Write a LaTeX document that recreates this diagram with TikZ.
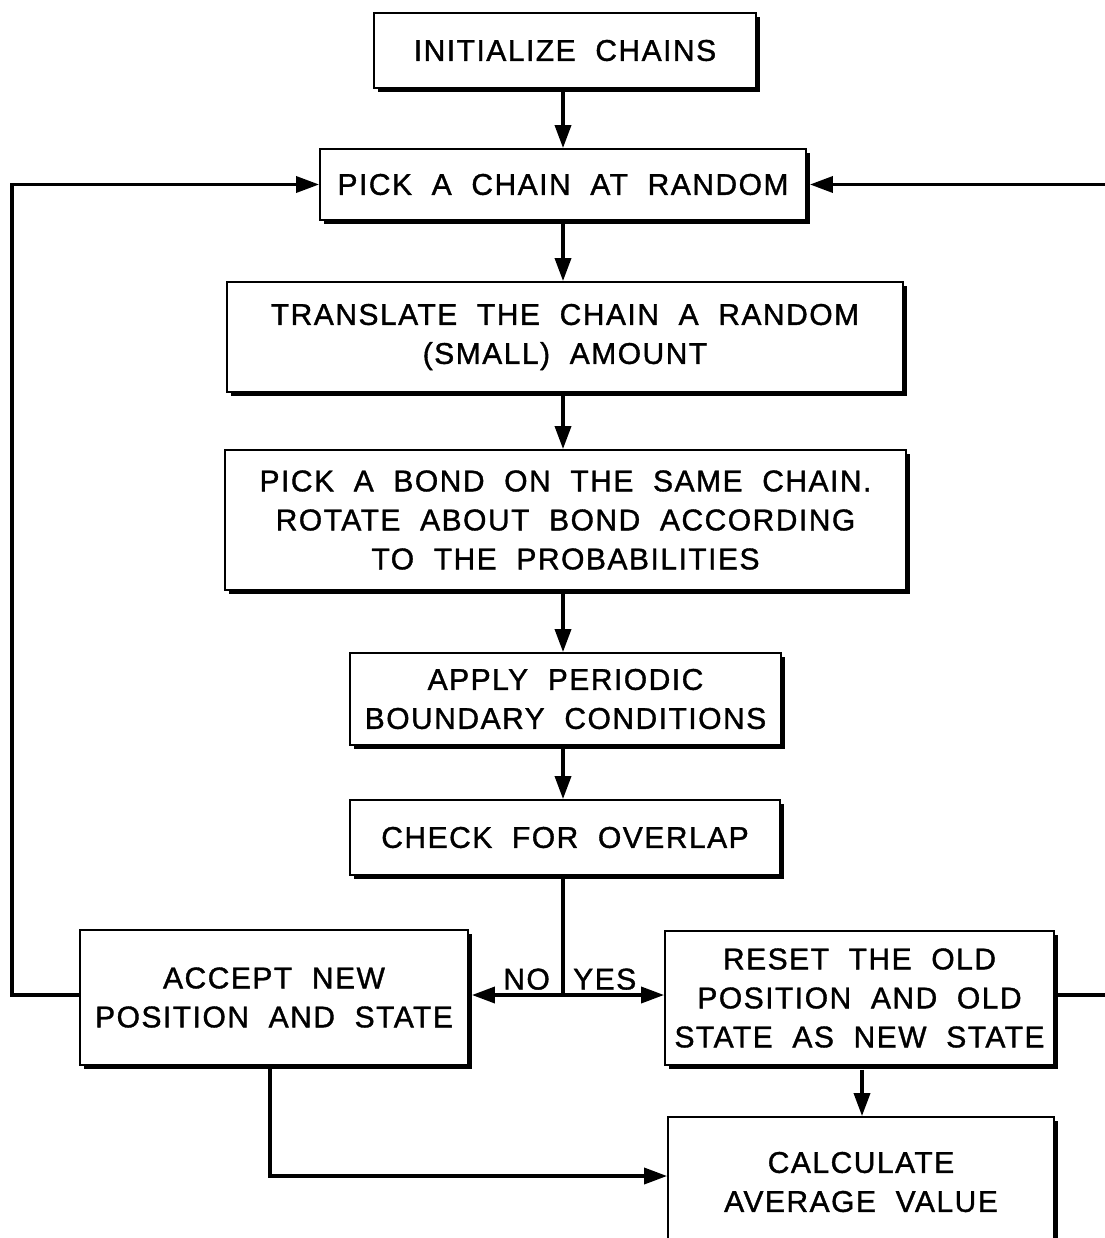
\documentclass[tikz,border=0pt]{standalone}
\usepackage{fontspec}
\setmainfont{Liberation Sans}[LetterSpace=5,WordSpace=2.0,FakeBold=1.2]
\usetikzlibrary{arrows.meta,shadows}
\begin{document}
\begin{tikzpicture}[x=1pt,y=-1pt,
  box/.style={draw=black,line width=1.8pt,fill=white,rectangle,inner sep=0pt,
    align=center,font=\fontsize{30}{39}\selectfont,
    drop shadow={shadow xshift=3.5pt,shadow yshift=-4pt,fill=black,opacity=1}},
  conn/.style={line width=3.5pt,draw=black},
  arr/.style={conn,-{Triangle[length=23pt,width=16pt]}},
  lab/.style={font=\fontsize{30}{36}\selectfont,inner sep=0pt}]
\useasboundingbox (0,0) rectangle (1104,1238);
\fill[white] (0,0) rectangle (1104,1238);
\node[box,minimum width=382pt,minimum height=75pt] (init) at (565,50.5) {INITIALIZE CHAINS};
\node[box,minimum width=486pt,minimum height=71pt] (pick) at (563,184.5) {PICK A CHAIN AT RANDOM};
\node[box,minimum width=676pt,minimum height=110pt] (trans) at (565,337) {TRANSLATE THE CHAIN A RANDOM\\(SMALL) AMOUNT};
\node[box,minimum width=681pt,minimum height=140pt] (bond) at (565.5,520) {PICK A BOND ON THE SAME CHAIN.\\ROTATE ABOUT BOND ACCORDING\\TO THE PROBABILITIES};
\node[box,minimum width=431pt,minimum height=92pt] (apply) at (565.5,699) {APPLY PERIODIC\\BOUNDARY CONDITIONS};
\node[box,minimum width=430pt,minimum height=75pt] (check) at (565,837.5) {CHECK FOR OVERLAP};
\node[box,minimum width=388pt,minimum height=135pt] (accept) at (274,997.5) {ACCEPT NEW\\POSITION AND STATE};
\node[box,minimum width=389pt,minimum height=134pt] (reset) at (859.5,998) {RESET THE OLD\\POSITION AND OLD\\STATE AS NEW STATE};
\node[box,minimum width=386pt,minimum height=130pt] (calc) at (861,1182) {CALCULATE\\AVERAGE VALUE};
\coordinate (col) at (563,0);
\coordinate (split) at (563,995);
\coordinate (lc) at (12,0);
\coordinate (rc) at (1108,0);
\coordinate (ab) at (270,1176);
\coordinate (rb) at (862,0);
\draw[arr] (init.south -| col) -- (pick.north -| col);
\draw[arr] (pick.south -| col) -- (trans.north -| col);
\draw[arr] (trans.south -| col) -- (bond.north -| col);
\draw[arr] (bond.south -| col) -- (apply.north -| col);
\draw[arr] (apply.south -| col) -- (check.north -| col);
\draw[conn] (check.south -| col) -- (split);
\draw[arr] (split) -- ([xshift=3pt]accept.east |- split);
\draw[arr] (split) -- (reset.west |- split);
\draw[arr] (accept.west |- split) -| (lc |- pick) -- (pick.west);
\draw[arr] ([xshift=3pt]reset.east |- split) -| (rc |- pick) -- ([xshift=3pt]pick.east);
\draw[arr] (accept.south -| ab) |- (calc.west |- ab);
\draw[arr] ([yshift=-4pt]reset.south -| rb) -- (calc.north -| rb);
\node[lab,anchor=south east] (no) at (550,990) {NO};
\node[lab,anchor=south west] (yes) at (573,990) {YES};
\end{tikzpicture}
\end{document}
